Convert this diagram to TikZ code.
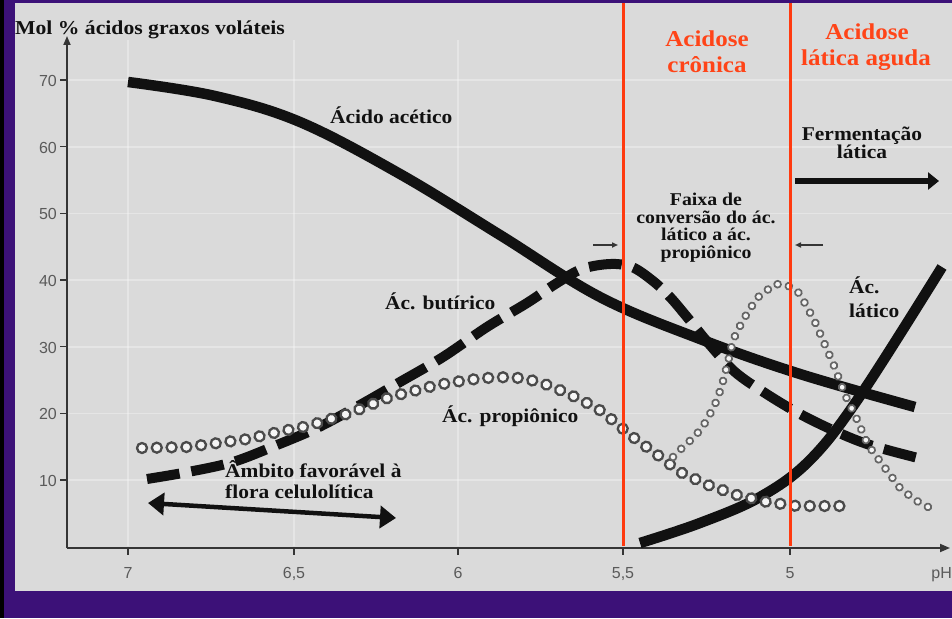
\documentclass[tikz,border=0pt]{standalone}
\usepackage{fontspec}
\setmainfont{Liberation Serif}
\newfontfamily\lbl[FakeStretch=1.1]{Liberation Serif}
\newfontfamily\axf{Liberation Sans}
\usetikzlibrary{arrows.meta,decorations.markings}
\definecolor{purp}{HTML}{3C1178}
\definecolor{panel}{HTML}{DADADA}
\definecolor{redl}{HTML}{FF3A0F}
\definecolor{redt}{HTML}{FF4418}
\definecolor{ink}{HTML}{111111}
\definecolor{axc}{HTML}{353535}
\definecolor{tickc}{HTML}{5A5A5A}
\definecolor{ringc}{HTML}{4A4A4A}
\begin{document}
\begin{tikzpicture}[x=1pt,y=-1pt,
  lab/.style={font={\lbl\bfseries\fontsize{19.5pt}{21pt}\selectfont}, text=ink, inner sep=0pt},
  smalllab/.style={font={\lbl\bfseries\fontsize{18pt}{18pt}\selectfont}, text=ink, inner sep=0pt},
  redlab/.style={font={\lbl\bfseries\fontsize{22.7pt}{26pt}\selectfont}, text=redt, inner sep=0pt},
  ticklab/.style={font={\axf\fontsize{16pt}{18pt}\selectfont}, text=tickc, inner sep=0pt},
  gridl/.style={draw=white, opacity=0.3, line width=1.6pt},
  axisl/.style={draw=axc, line width=1.8pt},
  tickl/.style={draw=axc, line width=1.2pt},
  curve/.style={draw=ink, line width=10.5pt},
  dashcurve/.style={draw=ink, line width=10pt, dash pattern=on 33pt off 12pt},
  redline/.style={draw=redl, line width=3pt},
  bigring/.style={draw=ringc, fill=white!92!gray, line width=2.3pt},
  smallring/.style={draw=ringc!85!white, fill=white!92!gray, line width=1.7pt}]
\useasboundingbox (0,0) rectangle (952,618);
% frame and panel
\fill[purp] (0,0) rectangle (952,618);
\fill[black] (0,0) rectangle (4,618);
\fill[panel] (15,3) rectangle (952,591);
% faint grid
\foreach \yy in {80,146.7,213.3,280,346.7,413.3,480}
  \draw[gridl] (68,\yy) -- (952,\yy);
\foreach \xx in {128,294,458}
  \draw[gridl] (\xx,40) -- (\xx,546);
% axes
\coordinate (O) at (67,548);
\coordinate (ytop) at (67,36);
\coordinate (xend) at (950,548);
\draw[axisl, -{Triangle[length=9pt,width=7pt]}] (O) -- (ytop);
\draw[axisl, -{Triangle[length=10pt,width=8pt]}] (O) -- (xend);
\foreach \v/\yy in {10/480,20/413.3,30/346.7,40/280,50/213.3,60/146.7,70/80}{
  \draw[tickl] (60,\yy) -- (67,\yy);
  \node[ticklab, anchor=base east] (yl\v) at (57,\yy+6.5) {\v};
}
\foreach \xx/\t/\n in {128/7/a,294/{6,5}/b,458/6/c,623/{5,5}/d,790/5/e}{
  \draw[tickl] (\xx,549) -- (\xx,555);
  \node[ticklab, anchor=base] (xl\n) at (\xx,578) {\t};
}
\node[ticklab, anchor=base east] (ph) at (952,578) {pH};
% title
\node[font={\lbl\bfseries\fontsize{19.7pt}{21pt}\selectfont}, text=ink, inner sep=0pt, anchor=base west] (title) at (15,35) {Mol \% ácidos graxos voláteis};
% acetic acid
\draw[curve] plot[smooth, tension=0.6] coordinates {
  (128,82) (215,96) (300,122) (400,174) (500,235) (600,297)
  (700,339) (800,374) (915,407)};
% butyric acid
\draw[dashcurve] plot[smooth, tension=0.55] coordinates {
  (147,479) (188,472) (233,462) (277,445) (317,428) (360,405) (400,382)
  (443,357) (487,327) (527,303) (557,283) (582,269) (610,264) (632,267)
  (653,281) (670,297) (687,317) (710,345) (735,372) (765,393) (800,414)
  (837,432) (870,445) (918,458)};
% lactic acid
\draw[curve] plot[smooth, tension=0.6] coordinates {
  (640,543) (700,523) (760,497) (810,460) (860,396) (942,267)};
% propionic acid (big rings)
\path[decorate, decoration={markings,
  mark=between positions 0 and 1 step 14.8pt with {\draw[bigring] (0,0) circle[radius=5pt];}}]
  (142,448) -- (187,447) -- (218,443) -- (248,439) -- (278,432) -- (308,426) -- (350,413)
  -- (390,397) -- (437,385) -- (467,380) -- (497,377) -- (520,378) -- (540,382) -- (567,393)
  -- (597,408) -- (615,422) -- (630,435) -- (655,453) -- (680,472) -- (708,485) -- (737,495)
  -- (767,502) -- (797,506) -- (840,506);
% propionic from lactic (small rings)
\path[decorate, decoration={markings,
  mark=between positions 0 and 1 step 11.6pt with {\draw[smallring] (0,0) circle[radius=3.4pt];}}]
  (673,457) -- (683,447) -- (693,438) -- (702,428) -- (710,414) -- (717,400) -- (722,385)
  -- (728,362) -- (733,340) -- (743,320) -- (757,298) -- (775,284) -- (787,285) -- (798,292)
  -- (806,305) -- (815,322) -- (825,345) -- (835,368) -- (845,395) -- (855,415) -- (868,445)
  -- (885,468) -- (900,488) -- (915,500) -- (930,508);
% red boundaries
\draw[redline] (623,3) -- (623,546);
\draw[redline] (790,3) -- (790,546);
% arrows
\coordinate (fa1) at (795,181);
\coordinate (fa2) at (939,181);
\draw[draw=ink, line width=6.5pt, -{Triangle[length=11pt,width=17pt]}] (fa1) -- (fa2);
\coordinate (da1) at (148,503);
\coordinate (da2) at (396,518);
\draw[draw=ink, line width=4.5pt, {Triangle[length=16pt,width=22pt]}-{Triangle[length=16pt,width=22pt]}] (da1) -- (da2);
\coordinate (sa1) at (593,245);
\coordinate (sa2) at (618,245);
\draw[draw=axc, line width=1.6pt, -{Triangle[length=6pt,width=5pt]}] (sa1) -- (sa2);
\coordinate (sb1) at (823,245);
\coordinate (sb2) at (795,245);
\draw[draw=axc, line width=1.6pt, -{Triangle[length=6pt,width=5pt]}] (sb1) -- (sb2);
% labels
\node[lab, anchor=base west] (acet) at (330,123) {Ácido acético};
\node[lab, anchor=base west] (buty) at (385,309) {Ác. butírico};
\node[lab, anchor=base west] (prop) at (442,422) {Ác. propiônico};
\node[lab, anchor=base west] (amb1) at (225,477) {Âmbito favorável à};
\node[lab, anchor=base west] (amb2) at (225,498) {flora celulolítica};
\node[lab, anchor=base west] (lac1) at (849,293) {Ác.};
\node[lab, anchor=base west] (lac2) at (849,317) {lático};
\node[lab, anchor=base] (fer1) at (862,140) {Fermentação};
\node[lab, anchor=base] (fer2) at (862,158) {lática};
\node[smalllab, anchor=base] (fx1) at (706,205) {Faixa de};
\node[smalllab, anchor=base] (fx2) at (706,223) {conversão do ác.};
\node[smalllab, anchor=base] (fx3) at (706,240) {lático a ác.};
\node[smalllab, anchor=base] (fx4) at (706,258) {propiônico};
\node[redlab, anchor=base] (ac1) at (707,47) {Acidose};
\node[redlab, anchor=base] (ac2) at (707,73) {crônica};
\node[redlab, anchor=base] (al1) at (867,39.5) {Acidose};
\node[redlab, anchor=base] (al2) at (866,65) {lática aguda};
\end{tikzpicture}
\end{document}
